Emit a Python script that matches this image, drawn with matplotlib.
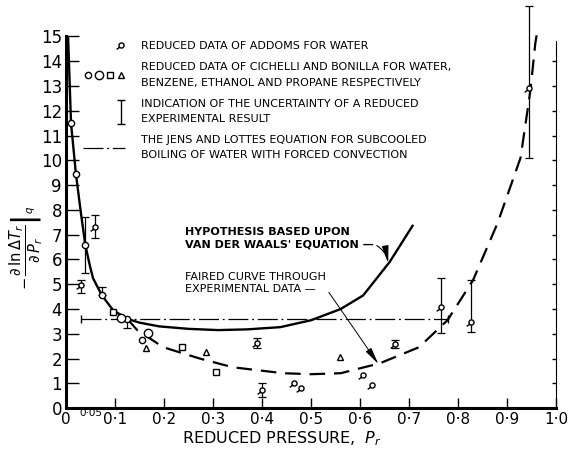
import numpy as np
import matplotlib
matplotlib.use('Agg')
import matplotlib.pyplot as plt
from matplotlib.path import Path
from matplotlib.lines import Line2D
from matplotlib.legend_handler import HandlerTuple

# ---------------- data ----------------
vdw_x = [0.004, 0.010, 0.020, 0.030, 0.039, 0.049, 0.055, 0.073, 0.096, 0.125,
         0.150, 0.190, 0.250, 0.310, 0.370, 0.437, 0.500, 0.560, 0.606, 0.660, 0.708]
vdw_y = [15.0, 11.5, 9.45, 7.9, 6.6, 5.7, 5.24, 4.55, 3.95, 3.6,
         3.45, 3.3, 3.2, 3.15, 3.18, 3.27, 3.55, 4.0, 4.55, 5.9, 7.4]

faired_x = [0.125, 0.145, 0.198, 0.273, 0.340, 0.443, 0.500, 0.560, 0.640, 0.720,
            0.778, 0.830, 0.880, 0.927, 0.947, 0.957, 0.961]
faired_y = [3.6, 3.15, 2.46, 2.0, 1.65, 1.41, 1.37, 1.41, 1.81, 2.46,
            3.55, 5.16, 7.46, 10.1, 12.8, 14.7, 15.2]

jens_x = [0.03, 0.78]
jens_y = [3.6, 3.6]

addoms_x = [0.030, 0.059, 0.390, 0.400, 0.465, 0.480, 0.605, 0.625, 0.670, 0.765, 0.826, 0.945]
addoms_y = [4.96, 7.30, 2.62, 0.73, 1.00, 0.80, 1.35, 0.93, 2.58, 4.07, 3.47, 12.94]

cb_water_x = [0.010, 0.020, 0.039, 0.073, 0.125, 0.155]
cb_water_y = [11.5, 9.44, 6.57, 4.56, 3.59, 2.74]
cb_benzene_x = [0.112, 0.167]
cb_benzene_y = [3.65, 3.02]
cb_ethanol_x = [0.095, 0.237, 0.305]
cb_ethanol_y = [3.90, 2.46, 1.45]
cb_propane_x = [0.163, 0.285, 0.558]
cb_propane_y = [2.42, 2.26, 2.06]

err_x = [0.030, 0.039, 0.059, 0.073, 0.125, 0.390, 0.400, 0.670, 0.765, 0.826, 0.945]
err_lo = [4.64, 5.44, 6.85, 4.56, 3.23, 2.42, 0.45, 2.42, 3.02, 3.06, 10.1]
err_hi = [5.16, 7.70, 7.78, 4.88, 3.60, 2.82, 1.00, 2.74, 5.24, 5.16, 16.25]

x_ticks = [0.0, 0.1, 0.2, 0.3, 0.4, 0.5, 0.6, 0.7, 0.8, 0.9, 1.0]
x_ticklabels = ['0', '0·1', '0·2', '0·3', '0·4', '0·5', '0·6', '0·7', '0·8', '0·9', '1·0']
y_ticks = list(range(16))

legend_labels = [
    'REDUCED DATA OF ADDOMS FOR WATER',
    'REDUCED DATA OF CICHELLI AND BONILLA FOR WATER,\nBENZENE, ETHANOL AND PROPANE RESPECTIVELY',
    'INDICATION OF THE UNCERTAINTY OF A REDUCED\nEXPERIMENTAL RESULT',
    'THE JENS AND LOTTES EQUATION FOR SUBCOOLED\nBOILING OF WATER WITH FORCED CONVECTION',
]

# ---------------- figure ----------------
plt.rcParams['font.family'] = ['DejaVu Sans']
plt.rcParams['mathtext.fontset'] = 'dejavusans'

fig = plt.figure(figsize=(5.7, 4.5), dpi=100)
ax = fig.add_axes([0.116, 0.093, 0.86, 0.903])
ax.set_xlim(0, 1.0)
ax.set_ylim(0, 16.4)

# custom markers
addoms_marker = Path.make_compound_path(
    Path.unit_circle(),
    Path([[-0.7, -0.7], [-1.9, -1.5]], [Path.MOVETO, Path.LINETO]))
ibar_marker = Path([[-0.35, 1], [0.35, 1], [0, 1], [0, -1], [-0.35, -1], [0.35, -1]],
                   [Path.MOVETO, Path.LINETO, Path.MOVETO, Path.LINETO, Path.MOVETO, Path.LINETO])

# curves
ax.plot(vdw_x, vdw_y, color='k', lw=1.7, solid_capstyle='butt', zorder=3)
ax.plot(faired_x, faired_y, color='k', lw=1.6, dashes=(7, 4), zorder=3)
ax.plot(jens_x, jens_y, color='k', lw=0.9, dashes=(16, 3, 1.5, 3),
        marker='|', ms=6, mew=1.0, zorder=2)

# error bars
err_c = [(a + b) / 2 for a, b in zip(err_lo, err_hi)]
err_e = [[c - a for c, a in zip(err_c, err_lo)], [b - c for b, c in zip(err_hi, err_c)]]
ax.errorbar(err_x, err_c, yerr=err_e, fmt='none', ecolor='k', elinewidth=0.9,
            capsize=3, capthick=0.9, zorder=4, clip_on=False)

mk = dict(color='k', ls='none', mfc='white', mec='k', mew=1.0, zorder=5, clip_on=False)
h_add, = ax.plot(addoms_x, addoms_y, marker=addoms_marker, ms=7, **mk)
h_w, = ax.plot(cb_water_x, cb_water_y, marker='o', ms=4.5, **mk)
h_b, = ax.plot(cb_benzene_x, cb_benzene_y, marker='o', ms=6, **mk)
h_e, = ax.plot(cb_ethanol_x, cb_ethanol_y, marker='s', ms=4.5, **mk)
h_p, = ax.plot(cb_propane_x, cb_propane_y, marker='^', ms=5, **mk)

# legend
h_blank = Line2D([], [], ls='none', marker='None')
h_err = Line2D([], [], color='k', ls='none', marker=ibar_marker, ms=17, mew=1.0)
h_jl = Line2D([], [], color='k', lw=0.9, dashes=(16, 3, 1.5, 3))
leg = ax.legend([(h_blank, h_blank, h_blank, h_add), (h_w, h_b, h_e, h_p),
                 (h_blank, h_blank, h_blank, h_err), h_jl], legend_labels,
                handler_map={tuple: HandlerTuple(ndivide=None, pad=0.2)},
                loc='upper left', bbox_to_anchor=(0.035, 0.9026), frameon=False,
                fontsize=8, handlelength=3.8, handletextpad=1.4, labelspacing=1.0,
                borderaxespad=0, borderpad=0, numpoints=1)
for t in leg.get_texts():
    t.set_linespacing(1.65)

# annotations
ax.annotate("HYPOTHESIS BASED UPON\nVAN DER WAALS' EQUATION —",
            xy=(0.657, 5.85), xytext=(0.243, 6.85), fontsize=8, fontweight='bold',
            ha='left', va='center', linespacing=1.3,
            arrowprops=dict(arrowstyle='-|>,head_length=1.3,head_width=0.25', color='k',
                            lw=0.8, relpos=(1.0, 0.25), shrinkA=0, shrinkB=0,
                            connectionstyle='arc3,rad=-0.25'))
ax.annotate("FAIRED CURVE THROUGH\nEXPERIMENTAL DATA —",
            xy=(0.637, 1.78), xytext=(0.243, 5.06), fontsize=8,
            ha='left', va='center', linespacing=1.3,
            arrowprops=dict(arrowstyle='-|>,head_length=1.3,head_width=0.25', color='k',
                            lw=0.7, relpos=(1.0, 0.25), shrinkA=0, shrinkB=0))

# axes styling
ax.spines['top'].set_visible(False)
ax.spines['left'].set_linewidth(2.2)
ax.spines['bottom'].set_linewidth(2.2)
ax.spines['right'].set_linewidth(0.8)
ax.spines['left'].set_bounds(0, 15)
ax.spines['right'].set_bounds(0, 14.8)

ax.set_yticks(y_ticks)
ax.set_yticklabels([str(v) for v in y_ticks], fontsize=12)
ax.set_xticks(x_ticks)
ax.set_xticklabels(x_ticklabels, fontsize=11)
ax.set_xticks([0.05], labels=['0·05'], minor=True)
for lab in ax.get_xticklabels(minor=True):
    lab.set_fontsize(7.5)
ax.tick_params(axis='x', which='minor', length=0, pad=0)
ax.tick_params(axis='y', direction='in', length=9, width=1, left=True, right=True, pad=3)
ax.tick_params(axis='x', which='major', direction='in', length=7, width=1, pad=3)
yt = ax.yaxis.get_major_ticks()
for t in yt:
    t.tick2line.set_markersize(3)
yt[-1].tick2line.set_visible(False)

ax.set_ylabel(r'$-\,\left.\dfrac{\partial\,\ln\Delta T_r}{\partial\,P_r}\right|_q$', fontsize=10.5)
ax.yaxis.set_label_coords(-0.043, 0.394)
ax.set_xlabel(r'REDUCED PRESSURE,  $P_r$', fontsize=11.5)
ax.xaxis.set_label_coords(0.44, -0.052)

fig.savefig('out.png', dpi=100, facecolor='white')
